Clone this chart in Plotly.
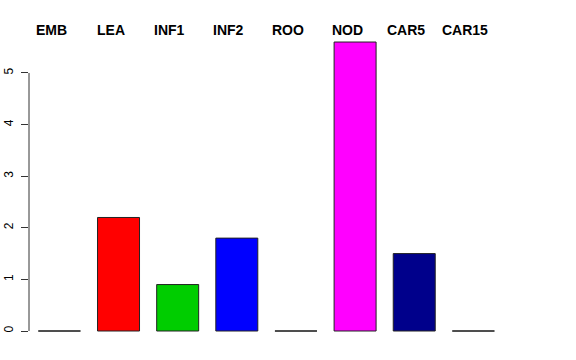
import plotly.graph_objects as go

categories = ["EMB", "LEA", "INF1", "INF2", "ROO", "NOD", "CAR5", "CAR15"]
values = [0, 2.2, 0.9, 1.8, 0, 5.6, 1.5, 0]
colors = ["black", "#FF0000", "#00CD00", "#0000FF", "#00FFFF", "#FF00FF", "#00008B", "#808080"]
y_ticks = [0, 1, 2, 3, 4, 5]

bar_width = 0.71
xs = list(range(len(categories)))

fig = go.Figure()
fig.add_trace(go.Bar(
    x=xs, y=values, width=bar_width,
    marker=dict(color=colors, line=dict(color="#222222", width=1)),
    showlegend=False, hoverinfo="skip",
))

# zero-height bars are drawn by R as flat outlines
for i, v in zip(xs, values):
    if v == 0:
        fig.add_trace(go.Scatter(
            x=[i - bar_width / 2, i + bar_width / 2], y=[v, v],
            mode="lines", line=dict(color="#444444", width=1),
            showlegend=False, hoverinfo="skip",
        ))

for i, c in zip(xs, categories):
    fig.add_annotation(
        x=i, y=1, xref="x", yref="paper", text="<b>%s</b>" % c,
        showarrow=False, xshift=-8, yshift=0, yanchor="middle",
        font=dict(family="Liberation Sans, Arial, sans-serif", size=14, color="black"),
    )

fig.add_shape(type="line", xref="paper", yref="y", x0=0, x1=0,
              y0=min(y_ticks), y1=max(y_ticks), line=dict(color="#333333", width=1))

fig.update_layout(
    width=576, height=360,
    margin=dict(l=29, r=30, t=30, b=17, autoexpand=False),
    paper_bgcolor="white", plot_bgcolor="white",
    font=dict(family="Liberation Sans, Arial, sans-serif", size=12, color="black"),
    xaxis=dict(range=[-0.514, 8.228], showticklabels=False, showgrid=False,
               zeroline=False, showline=False, ticks="", automargin=False),
    yaxis=dict(range=[-0.2326, 5.833], tickvals=y_ticks, ticks="outside",
               ticklen=7, tickcolor="#333333", tickangle=-90, automargin=False,
               showgrid=False, zeroline=False, showline=False,
               ticklabelstandoff=3, tickfont=dict(size=12)),
)

fig.write_html("out.html", config={"displayModeBar": False},
               post_script="document.body.style.margin='0';")
